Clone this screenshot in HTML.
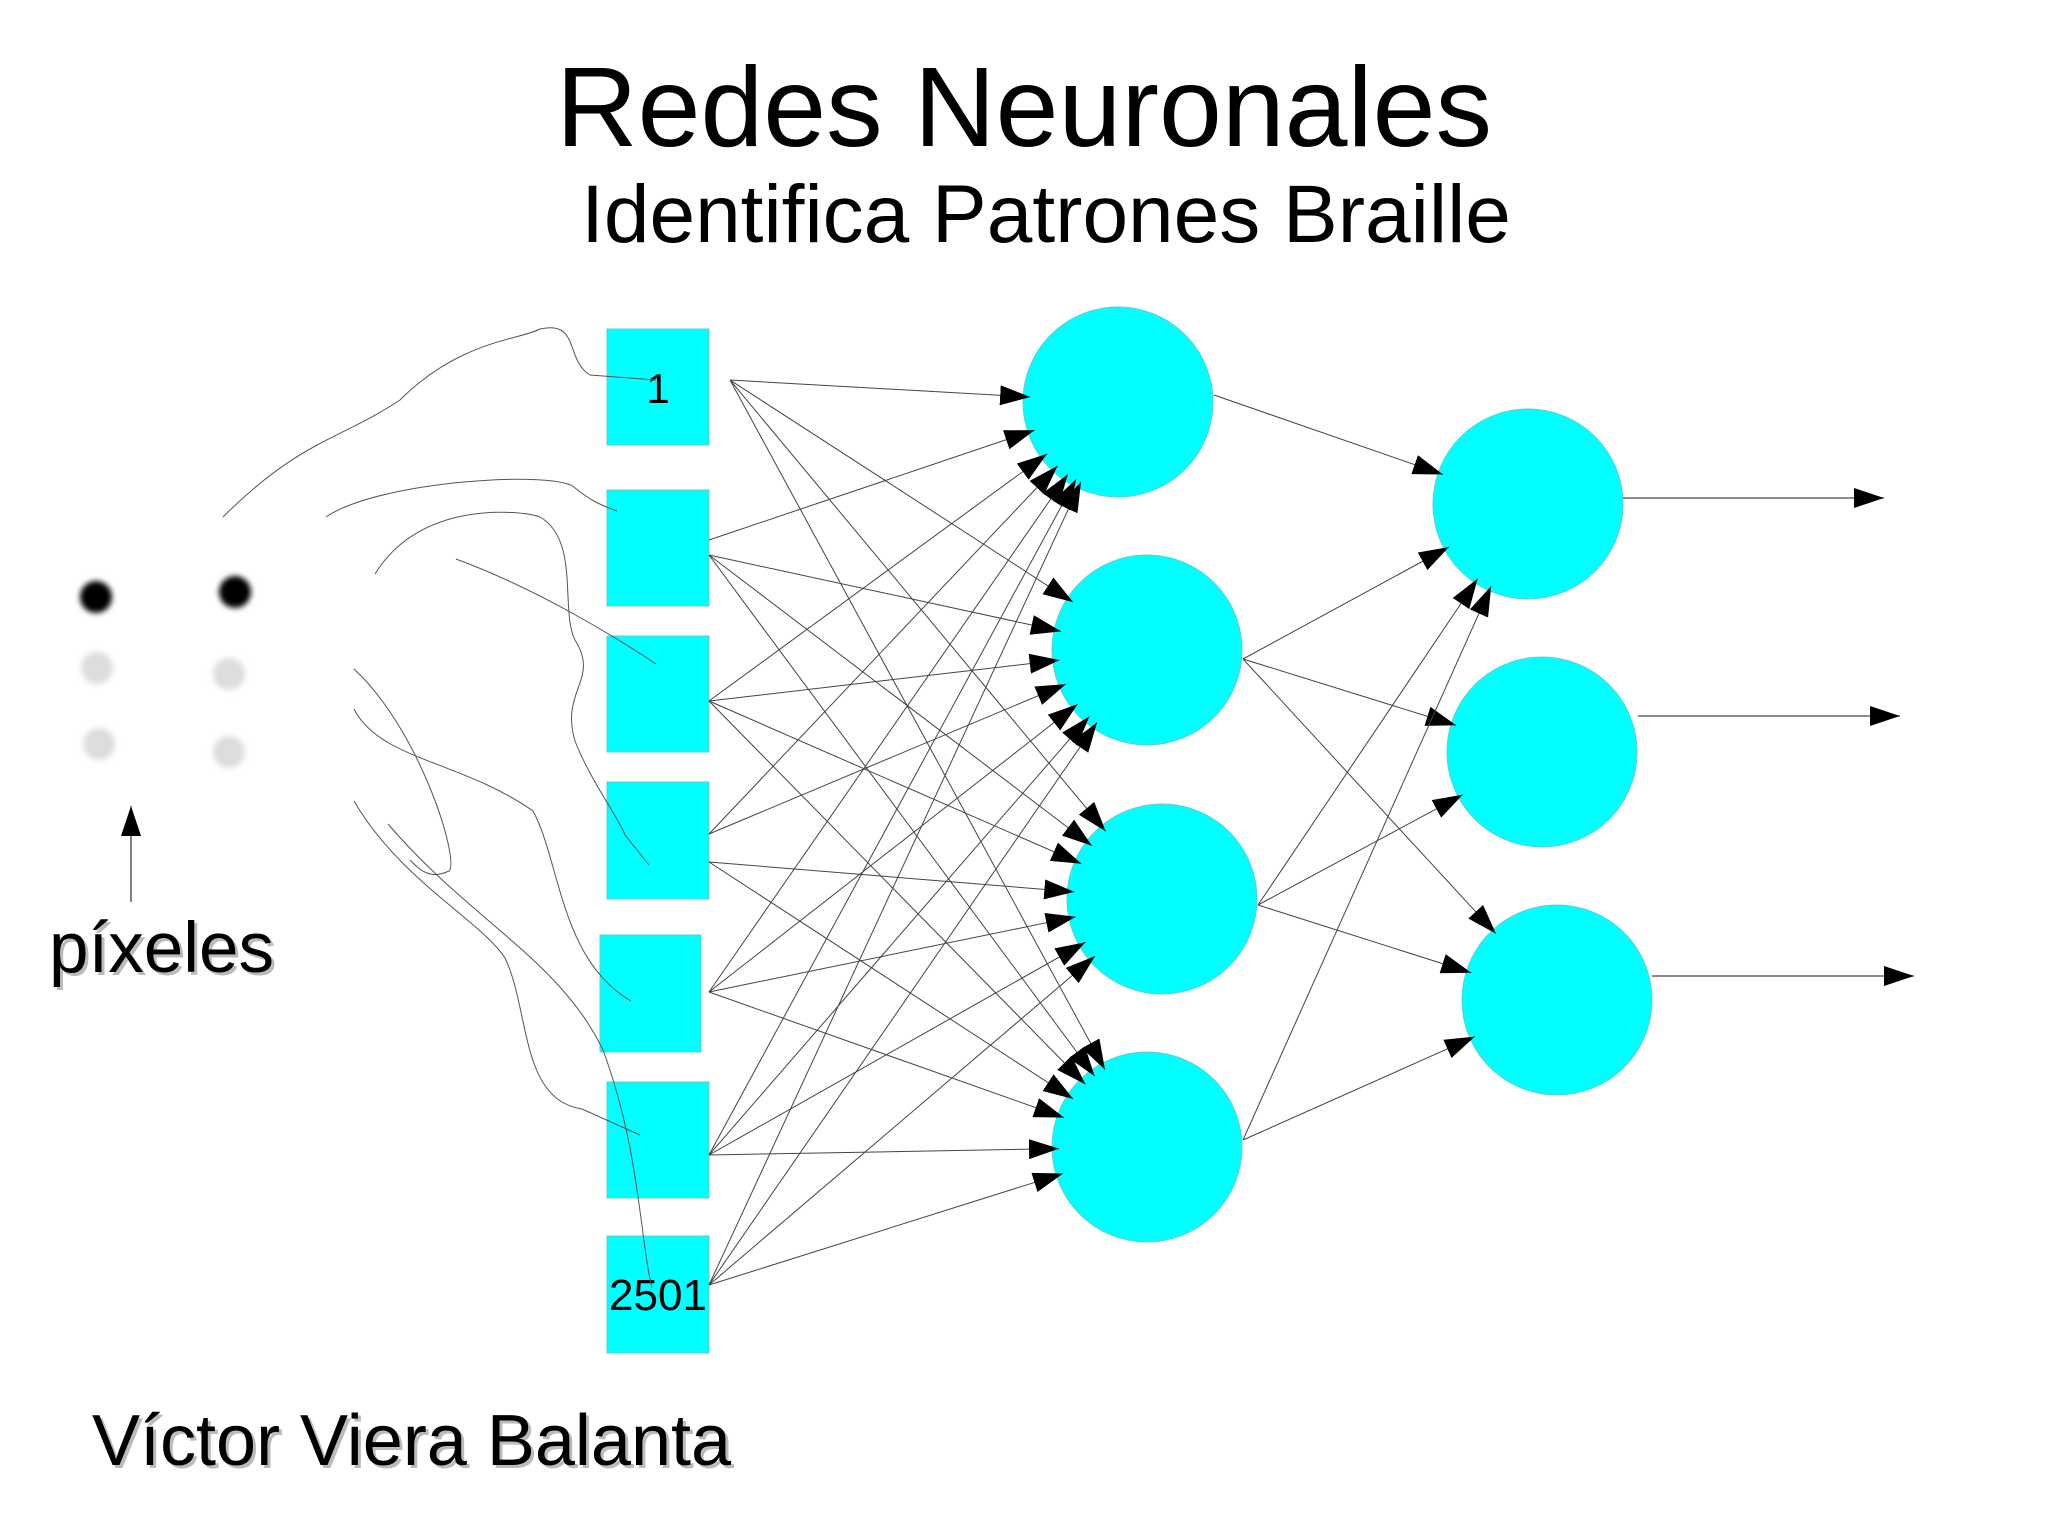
<!DOCTYPE html>
<html><head><meta charset="utf-8"><style>
html,body{margin:0;padding:0;background:#fff;}
svg{display:block;}
text{font-family:"Liberation Sans",sans-serif;}
</style></head><body>
<svg id="s" width="2048" height="1535" viewBox="0 0 2048 1535" xmlns="http://www.w3.org/2000/svg">
<defs>
<marker id="a" markerWidth="30" markerHeight="20" refX="30" refY="10" orient="auto" markerUnits="userSpaceOnUse"><path d="M0,0 L30,10 L0,20 z" fill="#000"/></marker>
<filter id="bl"><feGaussianBlur stdDeviation="3"/></filter>
</defs>
<rect width="2048" height="1535" fill="#fff"/>
<text x="1024" y="146" font-size="113" text-anchor="middle">Redes Neuronales</text>
<text x="1046" y="242" font-size="82" text-anchor="middle">Identifica Patrones Braille</text>
<g filter="url(#bl)">
<circle cx="96" cy="597" r="16" fill="#000"/><circle cx="235" cy="592" r="16" fill="#000"/>
<circle cx="97" cy="668" r="16" fill="#ddd"/><circle cx="229" cy="674" r="16" fill="#ddd"/>
<circle cx="99" cy="744" r="16" fill="#ddd"/><circle cx="229" cy="752" r="16" fill="#ddd"/>
</g>
<line x1="131" y1="902" x2="131" y2="806" stroke="#000" stroke-width="1" marker-end="url(#a)"/>
<text x="52" y="975" font-size="71" fill="#bbb">píxeles</text>
<text x="49" y="972" font-size="71">píxeles</text>
<text x="95" y="1468" font-size="72" fill="#bbb">Víctor Viera Balanta</text>
<text x="92" y="1465" font-size="72">Víctor Viera Balanta</text>
<g fill="#00ffff" stroke="#6cc" stroke-width="1">
<rect x="607" y="329" width="102" height="116"/>
<rect x="607" y="490" width="102" height="116"/>
<rect x="607" y="636" width="102" height="116"/>
<rect x="607" y="782" width="102" height="117"/>
<rect x="600" y="935" width="101" height="117"/>
<rect x="607" y="1082" width="102" height="116"/>
<rect x="607" y="1236" width="102" height="117"/>
<ellipse cx="1118" cy="402" rx="95" ry="95"/>
<ellipse cx="1147" cy="650" rx="95" ry="95"/>
<ellipse cx="1162" cy="899" rx="95" ry="95"/>
<ellipse cx="1147" cy="1147" rx="95" ry="95"/>
<ellipse cx="1528" cy="504" rx="95" ry="95"/>
<ellipse cx="1542" cy="752" rx="95" ry="95"/>
<ellipse cx="1557" cy="1000" rx="95" ry="95"/>
</g>
<text x="658" y="403" font-size="42" text-anchor="middle">1</text>
<text x="658" y="1310" font-size="44" text-anchor="middle">2501</text>
<g fill="none" stroke="#555" stroke-width="1">
<path d="M223,517 C300,440 340,440 400,400 C460,340 520,340 540,329 C580,320 565,360 590,375 L656,380"/>
<path d="M326,517 C380,480 560,470 575,488 C590,500 600,505 617,511"/>
<path d="M375,574 C420,500 520,510 540,517 C580,540 560,610 575,640 C600,680 560,690 575,741 C590,780 620,820 625,835 L649,865"/>
<path d="M456,559 C540,590 620,640 656,664"/>
<path d="M354,669 C420,730 460,860 449,871 C430,880 420,870 410,860"/>
<path d="M354,709 C380,760 460,760 533,811 C560,860 560,960 631,1001"/>
<path d="M354,801 C400,880 480,920 505,958 C530,1010 520,1100 582,1109 L640,1135"/>
<path d="M388,824 C470,920 560,960 603,1050 C640,1150 640,1240 652,1288"/>
</g>
<g id="L" stroke="#444" stroke-width="1" fill="none"></g>
<g stroke="#444" stroke-width="1.2">
<line x1="1623" y1="498" x2="1884" y2="498" marker-end="url(#a)"/>
<line x1="1638" y1="716" x2="1900" y2="716" marker-end="url(#a)"/>
<line x1="1652" y1="976" x2="1914" y2="976" marker-end="url(#a)"/>
</g>
</svg>
<script>
var L=document.getElementById('L');
function ln(x1,y1,cx,cy,r){var dx=cx-x1,dy=cy-y1,d=Math.sqrt(dx*dx+dy*dy);var x2=cx-dx/d*r,y2=cy-dy/d*r;
var e=document.createElementNS('http://www.w3.org/2000/svg','line');e.setAttribute('x1',x1);e.setAttribute('y1',y1);e.setAttribute('x2',x2);e.setAttribute('y2',y2);e.setAttribute('marker-end','url(#a)');L.appendChild(e);}
var src=[[730,380],[709,540],[709,555],[709,701],[709,834],[709,862],[709,992],[709,1155],[709,1285]];
var hid=[[1118,402],[1147,650],[1162,899],[1147,1147]];
src.forEach(function(s,i){hid.forEach(function(h,j){if(i==1&&j>0)return;if(i==2&&j==0)return;if(i==4&&j>1)return;if(i==5&&j<2)return;ln(s[0],s[1],h[0],h[1],88);});});
var out=[[1528,504],[1542,752],[1557,1000]];
var hs=[[1214,395],[1243,659],[1258,905],[1243,1140]];
var con=[[0],[0,1,2],[0,1,2],[0,2]];
con.forEach(function(c,i){c.forEach(function(j){ln(hs[i][0],hs[i][1],out[j][0],out[j][1],90);});});
</script>
</body></html>
